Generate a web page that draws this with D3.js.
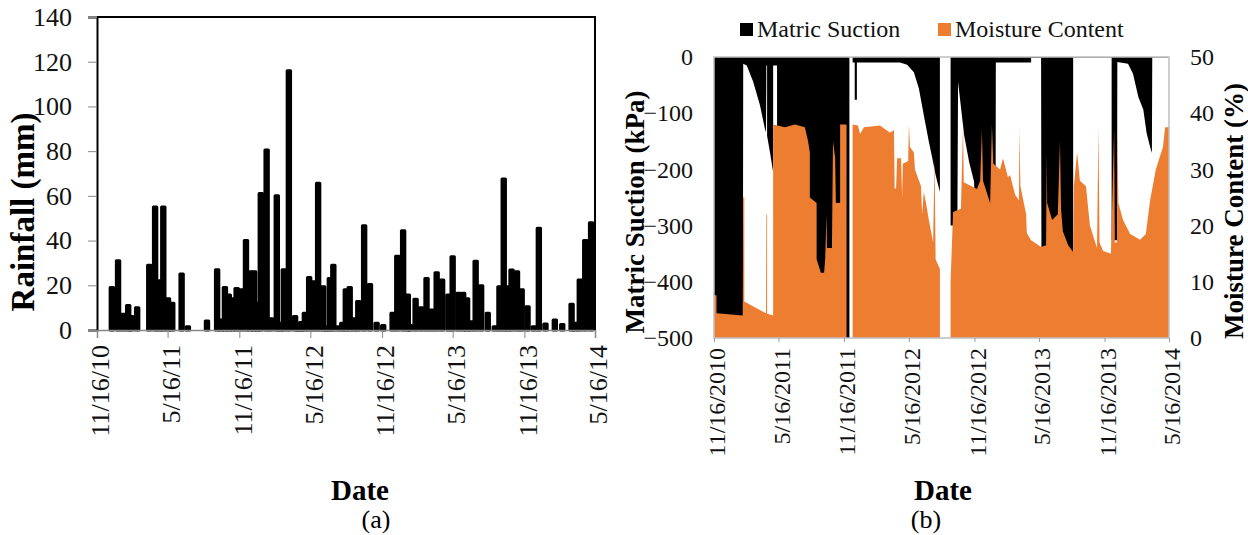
<!DOCTYPE html>
<html>
<head>
<meta charset="utf-8">
<script src="https://cdn.jsdelivr.net/npm/d3@7"></script>
<style>
  body { margin: 0; background: #fff; }
  svg { display: block; }
  svg text { font-family: "Liberation Serif", "Times New Roman", Times, "DejaVu Serif", serif; }
</style>
</head>
<body>
<svg id="chart" width="1248" height="535"></svg>
<script>
// all days are counted from 11/16/2010
const startDate = new Date(Date.UTC(2010, 10, 16));
const endDate = new Date(Date.UTC(2014, 4, 16));
const tickDates = ['2010-11-16', '2011-05-16', '2011-11-16', '2012-05-16',
  '2012-11-16', '2013-05-16', '2013-11-16', '2014-05-16'];

// (a) daily rainfall, mm
const rainDays = [38, 54, 67, 80, 88, 103, 134, 149, 160, 170, 182, 193, 217, 233, 282,
  308, 318, 328, 338, 348, 358, 369, 382, 393, 403, 411, 420, 435, 446, 461, 470, 479,
  492, 508, 516, 524, 533, 544, 555, 567, 580, 588, 597, 606, 619, 629, 638, 648, 660,
  670, 685, 700, 717, 734, 758, 770, 785, 797, 803, 817, 831, 845, 858, 871, 885, 901,
  912, 927, 939, 949, 959, 971, 985, 1002, 1020, 1032, 1043, 1053, 1063, 1077, 1089,
  1104, 1120, 1133, 1150, 1174, 1193, 1217, 1227, 1238, 1252, 1267];
const rainMm = [19, 31, 7, 11, 6, 10, 29, 55, 22, 55, 14, 12, 25, 1.5, 4,
  27, 4.5, 19, 15.6, 14, 18.6, 18, 40, 26, 26, 12, 61, 80.5, 5, 60, 3, 27,
  116, 6, 3, 3.3, 7.5, 23.5, 21.6, 65.6, 19.4, 1.5, 23, 29, 1.5, 3, 18, 19, 5,
  12.7, 46.6, 20.4, 3, 2, 7.5, 33, 44.4, 15.6, 2, 13.7, 10, 23, 9, 25.6, 22.4, 15.6,
  32.8, 16.4, 16.4, 14, 3.7, 30.8, 19.8, 7.5, 1.5, 19.4, 67.5, 19.4, 26.8, 26, 18,
  10.4, 1.5, 45.5, 2.7, 4.5, 2.5, 11.5, 3, 22.4, 40, 48];

// (b) matric suction, kPa
const suctionDays = [0, 81, 82, 92, 110, 129, 143, 146, 147, 149, 149, 157, 166, 166, 177,
  177, 380, 380, 389, 389, 395, 395, 401, 401, 522, 542, 561, 575, 589, 603, 613, 622,
  634, 634, 664, 664, 683, 685, 702, 716, 730, 733, 790, 791, 890, 890, 918, 919, 1008,
  1008, 1116, 1116, 1131, 1132, 1162, 1176, 1191, 1205, 1214, 1224, 1229, 1230, 1277];
const suctionKPa = [-500, -500, -12, -15, -44, -86, -128, -134, -15, -15, -140, -169, -205, -15, -15,
  -500, -500, 0, 0, -10, -10, -76, -76, -10, -10, -14, -27, -56, -104, -151, -181, -210,
  -240, 0, 0, -300, -300, -44, -139, -187, -222, -300, -360, -10, -10, -2, -2, -360, -360,
  -1, -1, -326, -326, -9, -12, -30, -71, -94, -135, -160, -171, -1, -1];

// (b) moisture content, %
const moistDays = [0, 7, 7, 81, 82, 85, 85, 146, 147, 149, 149, 166, 166, 199, 227, 255,
  264, 269, 269, 288, 288, 300, 309, 312, 316, 317, 331, 334, 340, 342, 354, 354, 372,
  372, 389, 389, 404, 410, 421, 466, 494, 505, 507, 511, 514, 525, 528, 530, 545, 547,
  550, 561, 564, 581, 584, 589, 595, 603, 615, 619, 622, 634, 634, 664, 664, 671, 693,
  699, 701, 738, 747, 752, 755, 775, 780, 784, 803, 811, 825, 831, 845, 856, 857, 860,
  876, 878, 890, 918, 932, 934, 935, 949, 965, 971, 974, 979, 994, 1008, 1010, 1019,
  1027, 1044, 1055, 1075, 1079, 1082, 1092, 1114, 1123, 1125, 1131, 1132, 1135, 1148,
  1168, 1196, 1212, 1224, 1240, 1260, 1266, 1277];
const moistPct = [7.6, 7.6, 4.4, 4.0, 25, 25, 6.5, 4.4, 22, 22, 4.3, 4.0, 38, 37.5, 38, 37.5,
  35, 33, 25, 24, 14, 11.6, 11.6, 14, 22, 16, 16, 35, 32, 24, 24, 38, 38,
  0, 0, 38, 37.8, 36.3, 37.5, 37.8, 36.5, 37, 26.6, 26.6, 32, 32, 25, 31, 31.5, 38,
  34, 33, 30, 27, 22, 26, 24, 21, 17, 32, 14, 12.3, 0, 0, 10, 22.4, 23,
  38, 27.7, 26.5, 28, 37, 28, 24, 38, 31, 30, 32, 28.6, 29, 25.5, 24.5, 37.3, 27,
  22, 18.7, 17.4, 16.2, 16.5, 33, 24, 21, 22, 35, 23, 19, 16.5, 15.3, 27, 33,
  28, 27, 20, 16, 37.5, 17, 15.5, 15, 37, 17, 17, 37.5, 24, 21,
  18.5, 17.5, 18.5, 24.5, 30, 34, 37.5, 37.5];

const svg = d3.select('#chart');
const dayToDate = (d) => d3.utcDay.offset(startDate, d);
const ticks = tickDates.map((s) => new Date(s + 'T00:00:00Z'));

// d3 axes put a sans-serif attribute on their group, drop it so the css font applies
function styleAxis(g, size) {
  g.attr('font-family', null).attr('font-size', null);
  g.selectAll('text').attr('font-size', size).attr('fill', '#111');
}

// ---------- (a) rainfall ----------
const xA = d3.scaleUtc().domain([startDate, endDate]).range([97, 595]);
const yA = d3.scaleLinear().domain([0, 140]).range([330, 17]);

const gA = svg.append('g');

gA.selectAll('rect.bar')
  .data(rainDays.map((d, i) => ({ date: dayToDate(d), v: rainMm[i] })))
  .join('rect')
  .attr('class', 'bar')
  .attr('x', (d) => xA(d.date) - 1.7)
  .attr('width', 3.4)
  .attr('y', (d) => yA(d.v))
  .attr('height', (d) => yA(0) - yA(d.v))
  .attr('fill', '#000')
  .attr('stroke', '#000')
  .attr('stroke-width', 3)
  .attr('stroke-linejoin', 'round');

const axA = gA.append('g')
  .attr('transform', 'translate(97,0)')
  .call(d3.axisLeft(yA).tickValues(d3.range(0, 141, 20)).tickSize(9).tickPadding(16));
axA.select('.domain').attr('stroke', '#000').attr('stroke-width', 2);
axA.selectAll('.tick line').attr('stroke', '#888');
styleAxis(axA, 26);

const bxA = gA.append('g')
  .attr('transform', 'translate(0,330)')
  .call(d3.axisBottom(xA).tickValues(ticks).tickSize(8).tickFormat(d3.utcFormat('%-m/%-d/%y')));
bxA.select('.domain').attr('stroke', '#888').attr('stroke-width', 1.5);
bxA.selectAll('.tick line').attr('stroke', '#888');
styleAxis(bxA, 26);
bxA.selectAll('text')
  .attr('transform', 'rotate(-90)')
  .attr('text-anchor', 'end')
  .attr('x', -15).attr('y', 0).attr('dy', '0.45em');

gA.append('path')
  .attr('d', 'M97,17H595V330')
  .attr('fill', 'none').attr('stroke', '#000').attr('stroke-width', 2);

gA.append('text')
  .attr('transform', 'translate(34,212) rotate(-90)')
  .attr('text-anchor', 'middle')
  .attr('font-weight', 'bold').attr('font-size', 33)
  .text('Rainfall (mm)');

gA.append('text').attr('x', 360).attr('y', 500)
  .attr('text-anchor', 'middle').attr('font-weight', 'bold').attr('font-size', 29)
  .text('Date');
gA.append('text').attr('x', 376).attr('y', 528)
  .attr('text-anchor', 'middle').attr('font-size', 26)
  .text('(a)');

// ---------- (b) suction and moisture ----------
const xB = d3.scaleUtc().domain([startDate, endDate]).range([714, 1169]);
const yS = d3.scaleLinear().domain([-500, 0]).range([338, 57]);
const yM = d3.scaleLinear().domain([0, 50]).range([338, 57]);

const gB = svg.append('g');

const suction = suctionDays.map((d, i) => ({ date: dayToDate(d), v: suctionKPa[i] }));
const moisture = moistDays.map((d, i) => ({ date: dayToDate(d), v: moistPct[i] }));

gB.append('path')
  .datum(suction)
  .attr('fill', '#000')
  .attr('d', d3.area().x((d) => xB(d.date)).y0(yS(0)).y1((d) => yS(d.v)));

gB.append('path')
  .datum(moisture)
  .attr('fill', '#ED7D31')
  .attr('d', d3.area().x((d) => xB(d.date)).y0(yM(0)).y1((d) => yM(d.v)));

gB.append('rect')
  .attr('x', 714).attr('y', 57).attr('width', 455).attr('height', 281)
  .attr('fill', 'none').attr('stroke', '#bfbfbf').attr('stroke-width', 1.5);

const lB = gB.append('g')
  .attr('transform', 'translate(714,0)')
  .call(d3.axisLeft(yS).tickValues(d3.range(-500, 1, 100)).tickSize(0).tickPadding(21));
lB.select('.domain').remove();
styleAxis(lB, 24);

const rB = gB.append('g')
  .attr('transform', 'translate(1169,0)')
  .call(d3.axisRight(yM).tickValues(d3.range(0, 51, 10)).tickSize(0).tickPadding(21));
rB.select('.domain').remove();
styleAxis(rB, 24);

const bB = gB.append('g')
  .attr('transform', 'translate(0,338)')
  .call(d3.axisBottom(xB).tickValues(ticks).tickSize(4).tickFormat(d3.utcFormat('%-m/%-d/%Y')));
bB.select('.domain').remove();
bB.selectAll('.tick line').attr('stroke', '#999');
styleAxis(bB, 24);
bB.selectAll('text')
  .attr('transform', 'rotate(-90)')
  .attr('text-anchor', 'end')
  .attr('x', -10).attr('y', 0).attr('dy', '0.45em');

gB.append('text')
  .attr('transform', 'translate(644,212) rotate(-90)')
  .attr('text-anchor', 'middle')
  .attr('font-weight', 'bold').attr('font-size', 27)
  .text('Matric Suction (kPa)');

gB.append('text')
  .attr('transform', 'translate(1243,211) rotate(-90)')
  .attr('text-anchor', 'middle')
  .attr('font-weight', 'bold').attr('font-size', 27)
  .text('Moisture Content (%)');

gB.append('text').attr('x', 943).attr('y', 500)
  .attr('text-anchor', 'middle').attr('font-weight', 'bold').attr('font-size', 29)
  .text('Date');
gB.append('text').attr('x', 926).attr('y', 528)
  .attr('text-anchor', 'middle').attr('font-size', 26)
  .text('(b)');

// legend
const legendItems = [
  { label: 'Matric Suction', color: '#000', x: 740 },
  { label: 'Moisture Content', color: '#ED7D31', x: 938 },
];
legendItems.forEach((item) => {
  gB.append('rect').attr('x', item.x).attr('y', 23).attr('width', 13).attr('height', 13)
    .attr('fill', item.color);
  gB.append('text').attr('x', item.x + 17).attr('y', 37)
    .attr('font-size', 24).attr('fill', '#111')
    .text(item.label);
});
</script>
</body>
</html>
